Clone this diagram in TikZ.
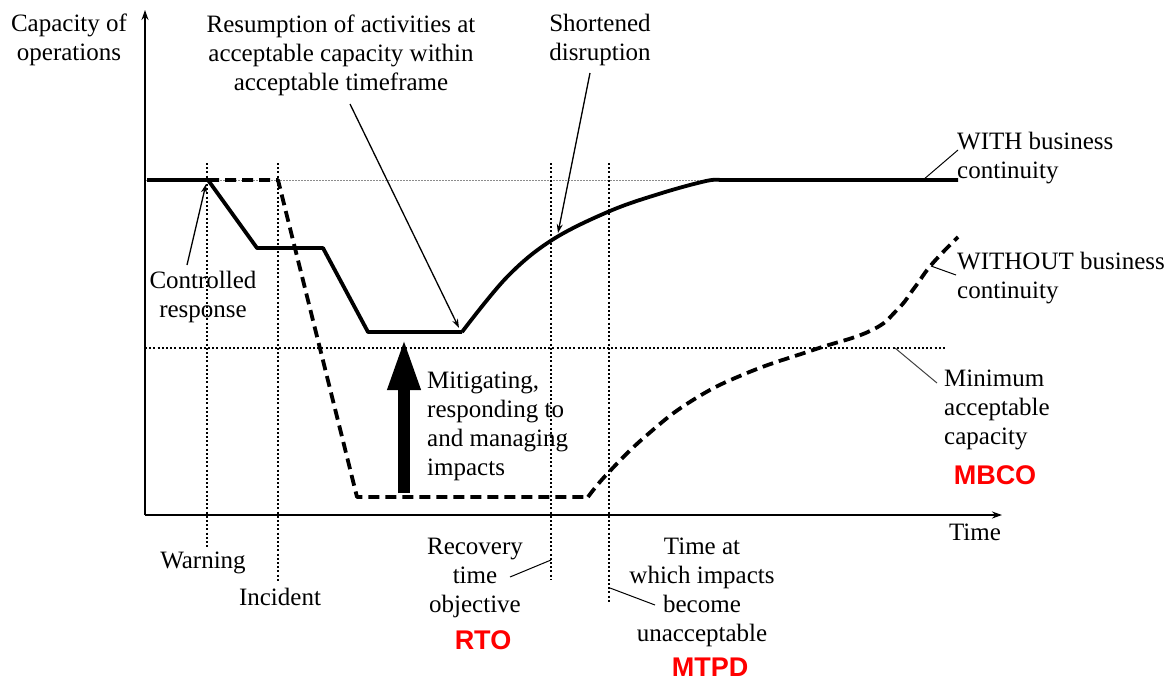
\documentclass[tikz,border=0pt]{standalone}
\usepackage{fontspec}
\setmainfont{Liberation Serif}
\newfontfamily\acrofont{Liberation Sans}
\usetikzlibrary{arrows.meta}
\begin{document}
\begin{tikzpicture}[x=1pt,y=-1pt,
  lbl/.style={font=\fontsize{25}{29}\selectfont, align=center, inner sep=0pt},
  lblL/.style={lbl, align=left},
  acr/.style={font=\acrofont\bfseries\fontsize{27}{30}\selectfont, text=red, inner sep=0pt},
  axisline/.style={line width=2pt, -{Stealth[length=10pt,width=7pt]}},
  withbc/.style={line width=3.8pt, line join=round},
  withoutbc/.style={line width=3.8pt, dash pattern=on 11pt off 6pt, line join=round},
  marker/.style={line width=1.2pt, dash pattern=on 2pt off 2.2pt},
  guide/.style={line width=1pt, black!45, dash pattern=on 1.5pt off 1.5pt},
  leader/.style={line width=1pt},
  pointer/.style={line width=1.3pt, -{Stealth[length=9pt,width=6pt]}},
  bigarrow/.style={line width=12pt, -{Triangle[length=52pt,width=30pt]}},
]
\useasboundingbox (0,0) rectangle (1169,681);

% reference levels and time markers
\draw[guide] (145,180) -- (958,180);
\draw[marker] (145,348) coordinate (mbcoL) -- (945,348) coordinate (mbcoR);
\draw[marker] (207,163) -- (207,548);
\draw[marker] (278,163) -- (278,582);
\draw[marker] (551,163) coordinate (rtoTop) -- (551,580) coordinate (rtoBot);
\draw[marker] (609,163) coordinate (mtpdTop) -- (609,603) coordinate (mtpdBot);

% axes
\coordinate (origin) at (145,515);
\draw[axisline] (origin) -- (145,10);
\draw[axisline] (origin) -- (1002,515);

% capacity WITH business continuity
\draw[withbc] (147,180) -- (208,180) -- (257,248) -- (323,248) -- (368,332) -- (462,332)
  plot[smooth, tension=0.6] coordinates {(462,332) (507,277) (552,240) (610,211) (662,193) (706,181) (720,180)}
  -- (958,180);

% capacity WITHOUT business continuity
\draw[withoutbc] (208,180) -- (278,180) -- (357,497) -- (588,497)
  plot[smooth, tension=0.75] coordinates {(588,497) (608,473) (647,435) (693,400) (747,373) (813,350) (870,331) (897,310) (915,287) (932,264) (958,237)};

% labels
\node[lbl] (cap) at (69,40) {Capacity of\\operations};
\node[lbl] (resume) at (341,55) {Resumption of activities at\\acceptable capacity within\\acceptable timeframe};
\node[lbl] (short) at (600,40) {Shortened\\disruption};
\node[lblL, anchor=west] (with) at (957,158) {WITH business\\continuity};
\node[lblL, anchor=west] (without) at (957,278) {WITHOUT business\\continuity};
\node[lblL, anchor=west] (minimum) at (944,410) {Minimum\\acceptable\\capacity};
\node[acr] (mbco) at (995,475) {MBCO};
\node[lblL, anchor=west] (mitig) at (427,426) {Mitigating,\\responding to\\and managing\\impacts};
\node[lbl] (ctrl) at (203,297) {Controlled\\response};
\node[lbl] (warn) at (203,563) {Warning};
\node[lbl] (incid) at (280,597) {Incident};
\node[lbl] (rtotext) at (475,578) {Recovery\\time\\objective};
\node[acr] (rto) at (483,640) {RTO};
\node[lbl] (mtpdtext) at (702,592) {Time at\\which impacts\\become\\unacceptable};
\node[acr] (mtpd) at (710,667) {MTPD};
\node[lbl] (time) at (975,532) {Time};

% pointers and leaders
\coordinate (ctrlA) at (187,265);
\coordinate (ctrlB) at (206,184);
\draw[pointer] (ctrlA) -- (ctrlB);
\coordinate (resA) at (350,104);
\coordinate (resB) at (459,328);
\draw[pointer] (resA) -- (resB);
\coordinate (shA) at (590,73);
\coordinate (shB) at (558,233);
\draw[pointer] (shA) -- (shB);
\coordinate (withA) at (923,180);
\coordinate (withB) at (958,150);
\draw[leader] (withA) -- (withB);
\coordinate (woA) at (931,266);
\coordinate (woB) at (956,275);
\draw[leader] (woA) -- (woB);
\coordinate (minA) at (895,348);
\coordinate (minB) at (937,383);
\draw[leader, black!75] (minA) -- (minB);
\coordinate (rtoA) at (510,577);
\coordinate (rtoB) at (551,560);
\draw[leader] (rtoA) -- (rtoB);
\coordinate (mtA) at (610,588);
\coordinate (mtB) at (655,605);
\draw[leader] (mtA) -- (mtB);

% response effort
\coordinate (effBase) at (404,493);
\coordinate (effTip) at (404,338);
\draw[bigarrow] (effBase) -- (effTip);
\end{tikzpicture}
\end{document}
